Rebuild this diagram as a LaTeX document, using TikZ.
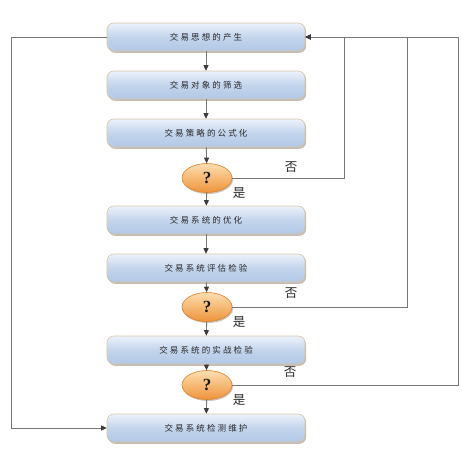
\documentclass[tikz,border=0pt]{standalone}
\usepackage{fontspec}
\newfontfamily\cjk[LetterSpace=25]{Noto Sans CJK SC}
\newfontfamily\cjkl{Noto Sans CJK SC}
\newfontfamily\qfont{Liberation Serif}
\usetikzlibrary{shapes.geometric,shadows,arrows.meta}
\definecolor{boxtop}{RGB}{236,242,251}
\definecolor{boxbot}{RGB}{178,200,230}
\definecolor{boxline}{RGB}{214,196,168}
\definecolor{ortop}{RGB}{253,222,176}
\definecolor{orbot}{RGB}{238,148,58}
\definecolor{orline}{RGB}{222,130,45}
\definecolor{conn}{RGB}{118,118,118}
\definecolor{tip}{RGB}{60,60,60}
\definecolor{txt}{RGB}{40,40,40}
\tikzset{
  stepbox/.style={rectangle, rounded corners=7pt, draw=boxline, line width=0.6pt,
    top color=boxtop, bottom color=boxbot, middle color=boxbot!70!boxtop,
    minimum width=198pt, minimum height=28pt, inner sep=0pt,
    font=\cjk\fontsize{8.5}{10}\selectfont, text=txt,
    drop shadow={shadow xshift=1.2pt, shadow yshift=-1.8pt, opacity=0.35, fill=brown!50!black}},
  decision/.style={ellipse, draw=orline, line width=0.6pt,
    top color=ortop, bottom color=orbot,
    minimum width=50pt, minimum height=29pt, inner sep=0pt,
    font=\qfont\bfseries\fontsize{17}{18}\selectfont, text=black!90,
    drop shadow={shadow xshift=1pt, shadow yshift=-1.5pt, opacity=0.3, fill=brown!50!black}},
  lbl/.style={font=\cjkl\fontsize{12.5}{13}\selectfont, text=txt},
  conn/.style={draw=conn, line width=0.9pt},
  arr/.style={conn, -{Triangle[length=5.5pt,width=5pt,color=tip]}}
}
\begin{document}
\begin{tikzpicture}[x=1pt,y=-1pt]
\useasboundingbox[fill=white] (0,0) rectangle (462,453);
\node[stepbox] (b1) at (206,37) {交易思想的产生};
\node[stepbox] (b2) at (206,85) {交易对象的筛选};
\node[stepbox] (b3) at (206,133) {交易策略的公式化};
\node[decision] (d1) at (207,178) {?};
\node[stepbox] (b4) at (206,220) {交易系统的优化};
\node[stepbox] (b5) at (206,268) {交易系统评估检验};
\node[decision] (d2) at (207,307) {?};
\node[stepbox] (b6) at (206,350) {交易系统的实战检验};
\node[decision] (d3) at (207,385) {?};
\node[stepbox] (b7) at (206,428) {交易系统检测维护};
\coordinate (r1) at (344,178);
\coordinate (r1t) at (344,37);
\coordinate (r2) at (407,307);
\coordinate (r2t) at (407,37);
\coordinate (r3) at (458,385);
\coordinate (r3t) at (458,37);
\coordinate (l1) at (11,37);
\coordinate (l2) at (11,428);
\node[lbl] (n1) at (291,167) {否};
\node[lbl] (y1) at (239,193) {是};
\node[lbl] (n2) at (291,293) {否};
\node[lbl] (y2) at (239,322) {是};
\node[lbl] (n3) at (290,372) {否};
\node[lbl] (y3) at (239,400) {是};
\draw[arr] (b1) -- (b2);
\draw[arr] (b2) -- (b3);
\draw[arr] (b3) -- (d1);
\draw[arr] (d1) -- (b4);
\draw[arr] (b4) -- (b5);
\draw[arr] (b5) -- (d2);
\draw[arr] (d2) -- (b6);
\draw[arr] (b6) -- (d3);
\draw[arr] (d3) -- (b7);
\draw[arr] (d1.east) -- (r1) -- (r1t) -- (b1.east);
\draw[arr] (d2.east) -- (r2) -- (r2t) -- (b1.east);
\draw[arr] (d3.east) -- (r3) -- (r3t) -- (b1.east);
\draw[arr] (b1.west) -- (l1) -- (l2) -- (b7.west);
\end{tikzpicture}
\end{document}
